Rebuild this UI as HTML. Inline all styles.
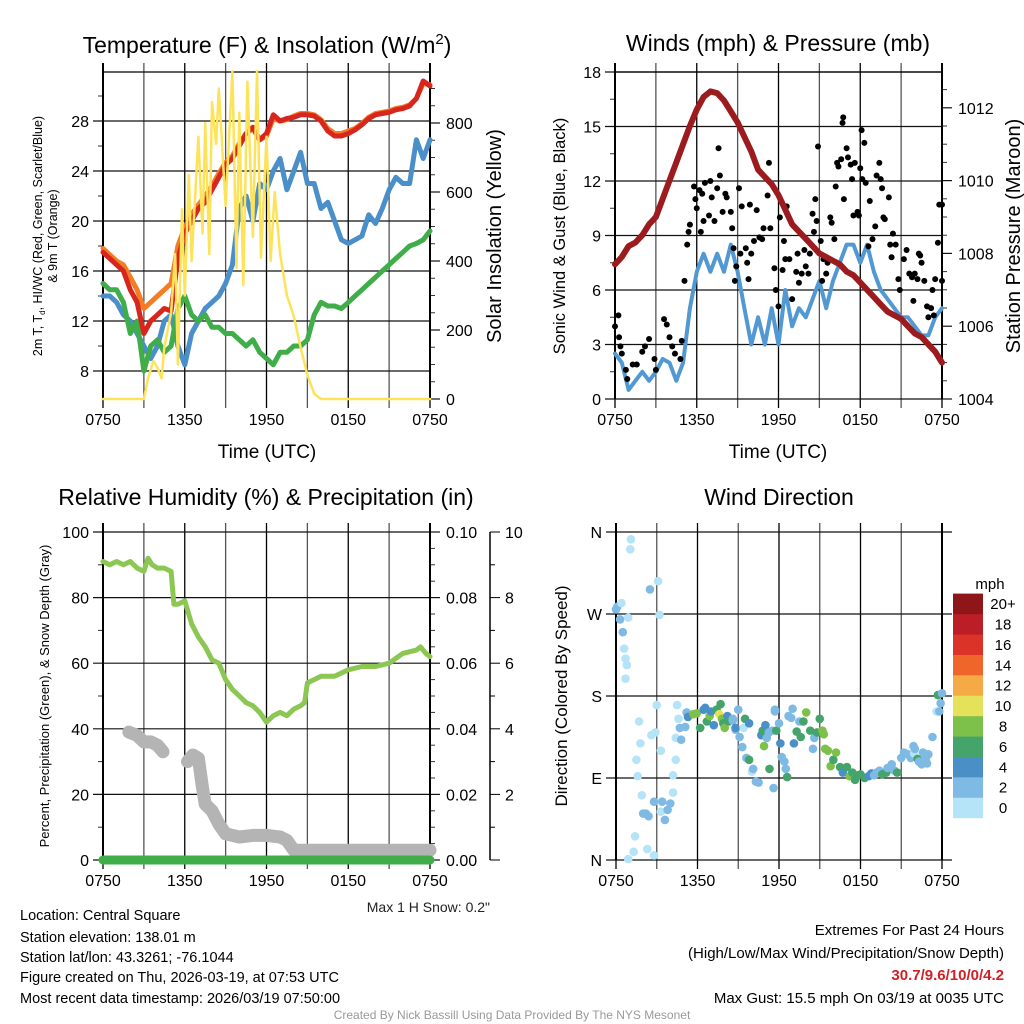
<!DOCTYPE html>
<html><head><meta charset="utf-8"><style>
html,body{margin:0;padding:0;background:#fff}
svg{display:block;font-family:"Liberation Sans",Arial,sans-serif}
</style></head><body>
<svg id="fig" width="1024" height="1024" viewBox="0 0 1024 1024" xmlns="http://www.w3.org/2000/svg">
<rect width="1024" height="1024" fill="#fff"/>
<text x="267" y="53" font-size="23" text-anchor="middle">Temperature (F) &amp; Insolation (W/m<tspan dy="-9" font-size="15">2</tspan><tspan dy="9">)</tspan></text>
<text x="778" y="51" font-size="23" text-anchor="middle">Winds (mph) &amp; Pressure (mb)</text>
<text x="266" y="505" font-size="23" text-anchor="middle">Relative Humidity (%) &amp; Precipitation (in)</text>
<text x="779" y="505" font-size="23" text-anchor="middle">Wind Direction</text>
<text transform="translate(42,236) rotate(-90)" font-size="12.5" text-anchor="middle">2m T, T<tspan font-size="8" dy="3">d</tspan><tspan dy="-3">, HI/WC (Red, Green, Scarlet/Blue)</tspan></text>
<text transform="translate(57,236) rotate(-90)" font-size="12.5" text-anchor="middle">&amp; 9m T (Orange)</text>
<text transform="translate(501,236) rotate(-90)" font-size="20" text-anchor="middle">Solar Insolation (Yellow)</text>
<text transform="translate(565,236) rotate(-90)" font-size="16.5" text-anchor="middle">Sonic Wind &amp; Gust (Blue, Black)</text>
<text transform="translate(1020,236) rotate(-90)" font-size="20" text-anchor="middle">Station Pressure (Maroon)</text>
<text transform="translate(49,696) rotate(-90)" font-size="13" text-anchor="middle">Percent, Precipitation (Green), &amp; Snow Depth (Gray)</text>
<text transform="translate(567,696) rotate(-90)" font-size="17" text-anchor="middle">Direction (Colored By Speed)</text>
<text x="267" y="458" font-size="19" text-anchor="middle">Time (UTC)</text>
<text x="778" y="458" font-size="19" text-anchor="middle">Time (UTC)</text>
<text x="490" y="912" font-size="14" text-anchor="end" fill="#222">Max 1 H Snow: 0.2"</text>
<g font-size="14.5">
<text x="20" y="920">Location: Central Square</text>
<text x="20" y="942">Station elevation: 138.01 m</text>
<text x="20" y="962">Station lat/lon: 43.3261; -76.1044</text>
<text x="20" y="982">Figure created on Thu, 2026-03-19, at 07:53 UTC</text>
<text x="20" y="1003">Most recent data timestamp: 2026/03/19 07:50:00</text>
</g>
<g font-size="15" text-anchor="end">
<text x="1004" y="935">Extremes For Past 24 Hours</text>
<text x="1004" y="958">(High/Low/Max Wind/Precipitation/Snow Depth)</text>
<text x="1004" y="980" fill="#d21f26" font-weight="bold">30.7/9.6/10/0/4.2</text>
<text x="1004" y="1003">Max Gust: 15.5 mph On 03/19 at 0035 UTC</text>
</g>
<text x="512" y="1019" font-size="12" fill="#999" text-anchor="middle">Created By Nick Bassill Using Data Provided By The NYS Mesonet</text>
<g id="layer"></g>
</svg>
<script>
// ---------- data ----------
const xTickLabels=["0750","1350","1950","0150","0750"];
const tHours=[0,0.5,1,1.5,2,2.5,3,3.5,4,4.5,5,5.5,6,6.5,7,7.5,8,8.5,9,9.5,10,10.5,11,11.5,12,12.5,13,13.5,14,14.5,15,15.5,16,16.5,17,17.5,18,18.5,19,19.5,20,20.5,21,21.5,22,22.5,23,23.5,24];
const tempRed=[17.5,17,16.5,16,14.5,13.5,11,12,12.5,13,12.8,17,19,20,21,21.5,22.5,23.5,24.5,25,26,27,27.5,26.5,27,28.5,28,28.2,28.3,28.5,28.5,28.4,28,27.2,26.8,26.8,27,27.3,27.7,28.2,28.5,28.6,28.7,28.9,29,29.2,29.8,31.2,30.8];
const temp9m=[17.8,17.3,16.8,16.5,15.5,14.5,13,13.5,14,14.5,15,18,19.5,20.5,21.3,22,22.8,23.8,24.7,25.2,26.2,27,27.4,26.5,26.8,28.2,28,28.1,28.4,28.6,28.6,28.5,28.1,27.4,27,27,27.2,27.4,27.8,28.3,28.6,28.7,28.8,29,29.1,29.3,29.8,31,30.9];
const dewGreen=[15,14.5,14.5,13.5,11,12,8,10,10.5,9.5,10,13,14,12.5,12,12.5,11.5,11.5,11,11,10.5,10,10.5,9.5,9,8.5,9.5,9.5,10,10,10.5,12.5,13.5,13.2,13.2,13,13.5,14,14.5,15,15.5,16,16.5,17,17.5,18,18.2,18.5,19.2];
const hiwcBlue=[14,14,13.5,12.5,12,11,10,9,10,12,12.5,10,8.5,11,12,13,13.5,14,15,16.5,21,22,20,23,22.5,24,25,22.5,24,25.5,23,23,21,21.5,20,18.5,18.2,18.5,18.8,20.5,19.8,21,22.5,23.5,23,23,26.5,25,26.5];
const solarT=[0,3,3.3,3.7,4,4.3,4.5,5,5.3,5.5,5.8,6,6.3,6.5,7,7.3,7.5,7.8,8,8.3,8.5,9,9.5,9.8,10,10.3,10.6,11,11.3,11.6,12,12.3,12.6,13,13.5,14,14.5,15,15.5,16,24];
const solarV=[0,0,60,110,90,60,150,250,420,100,550,300,650,400,760,480,800,420,860,740,900,560,950,380,830,330,920,470,950,410,760,400,600,420,300,240,150,70,15,0,0];
const windBlue=[2.5,2,0.5,1,1.5,1,1.5,2.2,2,1,2,5,7,8,7,8,7,8.5,7,5,3,4.5,3,5,3,6,4,5,4.5,5.5,6.5,5,6.5,7.5,8.5,8.5,7.5,8.5,7,6,5.5,5,4.5,4.5,4,3.5,3.5,4.5,5];
const pressure=[1007.7,1007.9,1008.2,1008.3,1008.5,1008.8,1009,1009.5,1010,1010.5,1011,1011.5,1011.95,1012.3,1012.45,1012.4,1012.2,1011.9,1011.6,1011.2,1010.8,1010.3,1010.1,1009.9,1009.6,1009.2,1008.8,1008.6,1008.4,1008.2,1008,1007.9,1007.8,1007.7,1007.5,1007.4,1007.2,1007,1006.8,1006.6,1006.4,1006.3,1006.2,1006,1005.8,1005.7,1005.5,1005.3,1005];
const gustT=[0,0.25,0.3,0.4,0.5,0.8,0.9,1.3,1.6,2,2.2,2.5,2.9,3,3.6,3.8,4,4.2,4.4,4.8,4.9,5.1,5.3,5.4,5.5,5.8,5.9,6,6.2,6.3,6.4,6.5,6.6,6.9,7,7.1,7.3,7.5,7.6,7.7,7.9,8.1,8.2,8.5,8.6,8.7,8.8,8.9,9.1,9.2,9.3,9.6,9.7,9.8,9.9,10,10.2,10.4,10.6,10.8,10.9,11.2,11.3,11.4,11.7,11.8,12,12.1,12.3,12.4,12.5,12.6,12.8,13,13.3,13.4,13.5,13.7,13.9,14,14.2,14.3,14.5,14.6,14.7,14.8,14.9,15.1,15.2,15.3,15.5,15.6,15.8,15.9,16.1,16.2,16.3,16.4,16.6,16.7,16.75,16.8,17,17.1,17.3,17.4,17.5,17.6,17.8,17.9,18,18.1,18.15,18.3,18.4,18.6,18.7,18.9,19.1,19.2,19.4,19.5,19.6,19.7,19.8,20.1,20.2,20.3,20.4,20.6,20.8,20.9,21.2,21.4,21.6,21.8,21.9,22,22.2,22.3,22.4,22.5,22.7,22.9,23,23.2,23.3,23.4,23.5,23.7,23.8,24,24];
const gustV=[4,4.6,3.4,2.9,2.5,1.6,1.1,1.9,1.9,2.6,2.9,3.3,2.2,1.6,4.4,4.1,3.4,2.9,2.5,2.2,3.2,6.5,8.5,9.2,9.6,11.7,11,10.5,11.5,9.2,11.3,9.8,11.9,10.1,12,11.1,9.8,11.6,13.8,12.3,10.3,11.3,11.1,10.3,9.4,8.3,6.5,7.3,11.6,8,10.6,8.3,7.5,6.6,10.7,8,8.7,10.4,8.9,8.8,9.4,11.2,13,9.4,7.2,6,5.1,10,7.1,8.7,7.7,10.6,7.7,5.5,7,8,6.4,6.9,8.2,7.3,6.9,8,10.2,9.2,11,9.8,13.9,8.7,6.5,7.7,6.9,7.5,10,9.7,8.8,11.7,13,12.8,13.2,15.2,15.5,11,13.8,13.3,12.9,12.1,10.1,13,10.3,10.1,12.7,14.8,12.1,14.1,11.9,8.4,10.9,8.8,9.5,12.3,13,12.1,11.6,10,9.9,11.1,8.5,7.8,9.1,8.5,6.6,6,7.7,8.2,6.9,6.7,5.4,6.9,6.6,8,7.9,7.5,6.5,5.1,4.5,5,6,4.6,6.6,8.6,10.7,10.7,6.5];
const rhT=[0,0.5,1,1.5,2,2.5,3,3.3,3.6,4,4.5,5,5.2,5.5,6,6.5,7,7.5,8,8.5,9,9.5,10,10.5,11,11.5,12,12.5,13,13.5,14,14.5,14.8,15,15.5,16,17,18,19,20,21,22,23,23.3,23.7,24];
const rhV=[91,90,91,90,91,89,88,92,90,89,89,88,78,78,79,72,68,65,61,60,55,52,50,48,47,45,42,44,45,44,46,47,48,54,55,56,56,58,59,59,60,63,64,65,63,62];
const snowT1=[1.9,2.5,3,3.5,4,4.4];
const snowV1=[3.9,3.8,3.6,3.6,3.5,3.3];
const snowT2=[6.2,6.6,7,7.3,7.5,8,8.5,9,10,11,12,13,13.5,14,24];
const snowV2=[3.0,3.2,3.1,2.2,1.7,1.5,1.1,0.8,0.7,0.75,0.75,0.7,0.6,0.3,0.3];
const precipT=[0,24];
const precipV=[0,0];
const dirT=[0,0.1,0.3,0.4,0.5,0.6,0.7,0.8,0.7,0.9,1.05,1.1,1.7,1.8,1.5,1.6,1.9,2.0,2.2,2.4,1.4,1.3,0.9,2.3,2.8,2.5,3.1,3.2,2.6,2.9,3.0,3.3,2.8,3.4,3.3,3.6,3.8,4.0,4.2,4.2,4.4,4.4,4.5,4.6,4.8,4.7,5.1,5.2,5.3,5.7,5.95,6.2,6.45,6.57,6.69,6.9,7.0,7.2,7.4,7.6,7.7,7.8,7.9,8.0,8.2,8.3,8.6,8.8,8.6,8.8,9.0,9.1,9.3,9.4,9.5,9.8,9.6,9.8,10.0,10.1,10.3,10.5,10.7,10.8,10.9,11.0,11.1,11.25,11.3,11.5,11.6,11.7,11.7,11.8,12.0,12.1,12.2,12.4,12.5,12.6,12.7,12.9,13.0,13.1,13.3,13.5,13.6,13.8,14.0,14.3,14.5,14.6,14.8,15.0,15.2,15.3,15.4,15.6,15.8,16.0,16.2,16.5,16.7,17.0,17.2,17.4,17.6,17.8,18.0,18.3,18.6,18.8,19.0,19.2,19.4,19.6,19.9,20.0,20.3,20.5,20.7,21.0,21.2,21.5,21.7,21.9,21.95,22.0,22.2,22.3,22.5,22.6,22.7,22.8,22.9,23.0,23.3,23.6,23.7,23.8,23.9,24.0];
const dirV=[275,278,264,282,250,232,221,214,199,266,341,352,152,128,110,92,71,51,51,48,26,9,1,12,5,297,306,269,137,140,170,120,64,64,53,44,55,62,74,93,110,134,170,155,132,145,146,162,157,160,161,145,165,167,152,158,163,148,165,160,171,155,150,145,158,152,153,143,155,145,165,135,124,145,155,150,112,110,97,100,86,85,137,142,125,148,134,140,100,142,79,163,165,142,150,128,113,108,100,91,158,156,166,128,141,152,135,152,162,142,122,134,140,155,142,138,122,120,103,110,118,102,96,102,92,96,88,93,94,90,92,95,93,96,98,94,96,101,105,98,96,112,118,116,112,125,117,122,111,108,105,118,117,111,106,116,135,163,181,163,172,183];
const dirS=[3,3,3,1,3,1,1,1,1,1,0,0,1,1,0,1,1,3,3,3,0,0,0,0,0,3,1,1,1,1,1,1,2,3,1,3,2,2,0,1,1,1,0,1,2,2,2,3,5,8,8,7,5,5,6,8,5,5,7,10,7,8,7,8,5,6,3,3,3,5,3,3,3,1,6,5,2,6,1,2,3,3,5,6,8,5,3,3,6,3,3,2,3,6,3,5,3,2,2,6,3,3,3,5,6,3,6,6,8,6,3,3,6,6,8,8,8,8,8,6,8,6,5,6,8,6,6,6,6,6,5,5,3,3,3,6,6,3,3,3,6,2,2,3,2,3,1,3,6,3,3,3,3,3,2,2,3,1,6,3,3,3];
const legendLabels=["0","2","4","6","8","10","12","14","16","18","20+"];
const speedColors=["#b5e3f7","#7ebae4","#4a8fc6","#45a46c","#7dc04a","#e6e15a","#f6aa46","#ef662b","#dc3328","#bc1e27","#8f1618"];

// ---------- helpers ----------
const NS="http://www.w3.org/2000/svg";
const layer=document.getElementById('layer');
function mk(tag,attrs,parent){const e=document.createElementNS(NS,tag);for(const k in attrs)e.setAttribute(k,attrs[k]);(parent||layer).appendChild(e);return e;}
const X1=h=>103+h*327/24, X2=h=>615+h*327/24, X4=h=>616+h*326/24;
const yTemp=v=>371-(v-8)*12.5, ySolar=v=>399-v*0.345;
const yWind=v=>399-v*327/18, yPres=p=>399-(p-1004)*36.4;
const yRH=v=>860-v*3.28, ySnow=v=>860-v*32.8;
const yDir=d=>860-d*328/360;
function pts(ts,vs,fx,fy){return ts.map((t,i)=>fx(t).toFixed(1)+','+fy(vs[i]).toFixed(1)).join(' ');}

function panel(name,x0,x1,y0,y1,fx,yticks,ylab,fy,rticks,rlab,fr,minorL,minorR){
  for(let h=0;h<=24;h+=3){const x=fx(h);
    const g=mk('line',{x1:x,x2:x,y1:y0-9,y2:y1+9,stroke:(h%6==0)?'#000':'#555','stroke-width':1.3});
    
    }
  yticks.forEach((v,i)=>{const y=fy(v);
    const g=mk('line',{x1:x0-10,x2:rticks?x1:x1+10,y1:y,y2:y,stroke:'#111','stroke-width':1.2});
    
    
    const t=mk('text',{x:x0-14,y:y+6,'font-size':16,'text-anchor':'end'});t.textContent=ylab[i];
    
    });
  (minorL||[]).forEach(v=>{const y=fy(v);
    const m=mk('line',{x1:x0-5,x2:x0,y1:y,y2:y,stroke:'#333'});
    
    });
  if(rticks){rticks.forEach((v,i)=>{const y=fr(v);
    const m=mk('line',{x1:x1,x2:x1+10,y1:y,y2:y,stroke:'#111','stroke-width':1.2});
    
    
    const t=mk('text',{x:x1+16,y:y+6,'font-size':16});t.textContent=rlab[i];
    
    });
    (minorR||[]).forEach(v=>{const y=fr(v);
      const m=mk('line',{x1:x1,x2:x1+5,y1:y,y2:y,stroke:'#333'});
      
      });}
  const fr2=mk('line',{x1:x0,x2:x0,y1:y0-9,y2:y1,stroke:'#000','stroke-width':2});
  
  
  const fr3=mk('line',{x1:x1,x2:x1,y1:y0-9,y2:y1,stroke:'#000','stroke-width':2});
  
  
  xTickLabels.forEach((l,i)=>{const t=mk('text',{x:fx(i*6),y:y1+26,'font-size':16,'text-anchor':'middle'});t.textContent=l;
    
    });
}
function line(p,color,w,name,cap){const e=mk('polyline',{points:p,fill:'none',stroke:color,'stroke-width':w,'stroke-linejoin':'round','stroke-linecap':cap||'round'});
  
  return e;}

// ---------- panel 1 ----------
panel('temp',103,430,72,399,X1,[8,12,16,20,24,28],["8","12","16","20","24","28"],yTemp,[0,200,400,600,800],["0","200","400","600","800"],ySolar,[10,14,18,22,26,30],[50,100,150,250,300,350,450,500,550,650,700,750,850,900]);
const t1=mk('line',{x1:103,x2:430,y1:72,y2:72,stroke:'#000','stroke-width':1.3});


line(pts(tHours,temp9m,X1,yTemp),'#f47c25',5,'orange-9m-temp-line');
line(pts(tHours,hiwcBlue,X1,yTemp),'#4a8fc9',5,'blue-windchill-line');
line(pts(tHours,dewGreen,X1,yTemp),'#3fae49',5,'green-dewpoint-line');
line(pts(tHours,tempRed,X1,yTemp),'#d7261e',5,'red-2m-temp-line');
line(pts(solarT,solarV,X1,ySolar),'#fde35a',2.5,'yellow-insolation-line');

// ---------- panel 2 ----------
panel('wind',615,942,72,399,X2,[0,3,6,9,12,15,18],["0","3","6","9","12","15","18"],yWind,[1004,1006,1008,1010,1012],["1004","1006","1008","1010","1012"],yPres,[1.5,4.5,7.5,10.5,13.5,16.5],[1004.5,1005,1005.5,1006.5,1007,1007.5,1008.5,1009,1009.5,1010.5,1011,1011.5,1012.5]);
const t2=mk('line',{x1:615,x2:942,y1:72,y2:72,stroke:'#000','stroke-width':1.3});


line(pts(tHours,windBlue,X2,yWind),'#5299d3',4,'blue-wind-line');
gustT.forEach((t,i)=>{const c=mk('circle',{cx:X2(t),cy:yWind(gustV[i]),r:3,fill:'#000'});
  
  });
line(pts(tHours,pressure,X2,yPres),'#9b1b1e',6,'maroon-pressure-line');

// ---------- panel 3 ----------
panel('rh',103,430,532,860,X1,[0,20,40,60,80,100],["0","20","40","60","80","100"],yRH,[0,0.02,0.04,0.06,0.08,0.1],["0.00","0.02","0.04","0.06","0.08","0.10"],v=>860-v*3280,[10,30,50,70,90],[0.005,0.01,0.015,0.025,0.03,0.035,0.045,0.05,0.055,0.065,0.07,0.075,0.085,0.09,0.095]);
const sx=mk('line',{x1:490,x2:490,y1:532,y2:860,stroke:'#000','stroke-width':1.5});


[0,1,2,3,4,5,6,7,8,9,10].forEach(v=>{const y=ySnow(v);
  const m=mk('line',{x1:490,x2:v%2==0?500:495,y1:y,y2:y,stroke:'#000'});
  
  
  if(v%2==0&&v>0){const t=mk('text',{x:505,y:y+6,'font-size':16});t.textContent=String(v);
  
  }});
line(pts(snowT1,snowV1,X1,ySnow),'#b4b4b4',13,'gray-snow-depth-line-1');
line(pts(snowT2,snowV2,X1,ySnow),'#b4b4b4',13,'gray-snow-depth-line-2');
line(pts(rhT,rhV,X1,yRH),'#8cc653',5,'green-rh-line');
line(pts(precipT,precipV,X1,v=>860-v*3280),'#3fae49',9,'green-precip-line');

// ---------- panel 4 ----------
panel('dir',616,942,532,860,X4,[0,90,180,270,360],["N","E","S","W","N"],yDir,null,null,null,null,null);
dirT.forEach((t,i)=>{const b=Math.min(10,Math.floor(dirS[i]/2));
  const c=mk('circle',{cx:X4(t),cy:yDir(dirV[i]),r:4.3,fill:speedColors[b]});
  
  });
const lt=mk('text',{x:990,y:589,'font-size':15,'text-anchor':'middle'});lt.textContent='mph';


legendLabels.forEach((l,i)=>{const y=818-(i+1)*20.4;
  const r=mk('rect',{x:953,y:y,width:30,height:20.6,fill:speedColors[i]});
  
  
  const t=mk('text',{x:1003,y:y+15.5,'font-size':15,'text-anchor':'middle'});t.textContent=l;
  
  });
</script>
</body></html>
